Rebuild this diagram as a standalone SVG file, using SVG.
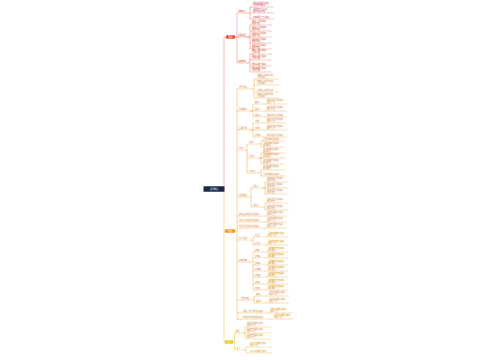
<svg xmlns="http://www.w3.org/2000/svg" width="500" height="360" viewBox="0 0 500 360">
<style>
.t{font-family:"Noto Sans CJK SC","Noto Sans",sans-serif;font-size:2px}
.tr{fill:#d4473f}.to{fill:#d98a20}.tw{fill:#ffffff}
.c{fill:none;stroke-width:0.5}
.r{stroke:#ea7a72}.o{stroke:#f0a640}.y{stroke:#efc03c}
.u{fill:none;stroke-width:0.4}
</style>
<rect width="500" height="360" fill="#ffffff"/>
<g id="connectors">
<path class="c r" d="M224 189V37H226"/>
<path class="c o" d="M224 189V231H225"/>
<path class="c y" d="M224 231V342H225"/>
<path class="c r" d="M235 37H237V13H238M235 37H238M237 37V63H238"/>
<path class="c r" d="M246 13H250V7H253M250 13H253M250 13V19H253"/>
<path class="c r" d="M246 37H250V25H252M250 31H252M246 37H252M250 37V49H252M250 43H252"/>
<path class="c r" d="M246 63H250V54H252M250 60H252M250 63V72H252M250 66H252"/>
<path class="c o" d="M235 231H237V89H239M237 111H239M237 130H239M237 150H239M237 197H239M237 216H239M237 222H239M237 228H239M237 231V319H239M237 240H239M237 262H239M237 300H241M237 313H243M237 319H243"/>
<path class="c o" d="M251 89H254V79H257M254 85H257M254 89V98H257M254 92H257"/>
<path class="c o" d="M250 111H253V104H255M250 111H255M253 111V117H255M264 104H267M264 111H267M264 117H267"/>
<path class="c o" d="M250 130H253V123H255M250 130H255M253 130V137H255M264 123H267M264 130H267M264 137H267"/>
<path class="c o" d="M245 150H247V144H249M247 150V173H249M247 158H249"/>
<path class="c o" d="M259 144H261V141H263M261 144V147H263M259 158H261V153H263M259 158H263M261 158V164H263M259 173H261V170H263M261 173V176H263"/>
<path class="c o" d="M248 197H251V188H253M251 197V207H253M263 188H265V182H267M263 188H267M265 188V194H267M263 207H265V203H267M265 207V210H267"/>
<path class="c o" d="M264 216H267M264 222H267M264 228H267"/>
<path class="c o" d="M251 240H253V237H255M253 240V245H255M265 237H268M265 245H268"/>
<path class="c o" d="M247 262H253V252H255M253 258H255M253 262V290H255M253 265H255M253 271H255M253 277H255M253 284H255M265 252H268M265 258H268M265 265H268M265 271H268M265 277H268M265 284H268M265 290H268"/>
<path class="c o" d="M251 300H254V296H256M254 300V303H256M266 296H269M266 303H269"/>
<path class="c o" d="M267 313H270M271 319H274"/>
<path class="c y" d="M233 342H234.5V333H236M234.5 342V350H236"/>
<path class="c y" d="M243 333H245V327H247M243 333H247M245 333V339H247"/>
<path class="c y" d="M244 350H246V347H250M246 350V353H250"/>
</g>
<g id="root"><rect x="203.5" y="186.3" width="21" height="5.4" rx="0.5" fill="#1e2846"/><text class="t tw" x="214" y="189.7" text-anchor="middle">主题概览</text></g>
<g id="R"><rect x="226" y="35.3" width="9" height="3.4" rx="0.4" fill="#e74c3c"/><text class="t tw" x="230.5" y="37.7" text-anchor="middle">概述</text></g>
<g id="O"><rect x="225" y="229.3" width="10" height="3.4" rx="0.4" fill="#f39c12"/><text class="t tw" x="230" y="231.7" text-anchor="middle">内容</text></g>
<g id="Y"><rect x="225" y="340.3" width="8" height="3.4" rx="0.4" fill="#f1c40f"/><text class="t tw" x="229" y="342.7" text-anchor="middle">总结</text></g>
<g id="R1"><text class="t tr" x="238" y="12.3">基本定义</text><path class="u r" d="M238 13h8"/></g>
<g id="R1a"><text class="t tr" x="253" y="4.2">相关内容要点说明<tspan x="253" y="6.3">具体细节描述</tspan></text><path class="u r" d="M253 7h21"/></g>
<g id="R1b"><text class="t tr" x="253" y="10.2">主要特点与表现<tspan x="253" y="12.3">相关说明内容</tspan></text><path class="u r" d="M253 13h21"/></g>
<g id="R1c"><text class="t tr" x="253" y="18.3">基本概念介绍说明</text><path class="u r" d="M253 19h21"/></g>
<g id="R2"><text class="t tr" x="238" y="36.3">主要类型</text><path class="u r" d="M238 37h8"/></g>
<g id="R2a"><text class="t tr" x="252" y="22.2">类型一具体说明<tspan x="252" y="24.3">相关内容</tspan></text><path class="u r" d="M252 25h20"/></g>
<g id="R2b"><text class="t tr" x="252" y="28.2">类型二具体说明<tspan x="252" y="30.3">相关内容</tspan></text><path class="u r" d="M252 31h20"/></g>
<g id="R2c"><text class="t tr" x="252" y="34.2">类型三具体说明<tspan x="252" y="36.3">相关内容</tspan></text><path class="u r" d="M252 37h20"/></g>
<g id="R2d"><text class="t tr" x="252" y="40.2">类型四具体说明<tspan x="252" y="42.3">相关内容</tspan></text><path class="u r" d="M252 43h20"/></g>
<g id="R2e"><text class="t tr" x="252" y="46.2">类型五具体说明<tspan x="252" y="48.3">相关内容</tspan></text><path class="u r" d="M252 49h20"/></g>
<g id="R3"><text class="t tr" x="238" y="62.3">基本原则</text><path class="u r" d="M238 63h8"/></g>
<g id="R3a"><text class="t tr" x="252" y="51.2">原则一要点说明<tspan x="252" y="53.3">具体内容</tspan></text><path class="u r" d="M252 54h20"/></g>
<g id="R3b"><text class="t tr" x="252" y="57.2">原则二要点说明<tspan x="252" y="59.3">具体内容</tspan></text><path class="u r" d="M252 60h20"/></g>
<g id="R3c"><text class="t tr" x="252" y="65.3">原则三要点说明</text><path class="u r" d="M252 66h20"/></g>
<g id="R3d"><text class="t tr" x="252" y="69.2">原则四要点说明<tspan x="252" y="71.3">具体内容</tspan></text><path class="u r" d="M252 72h20"/></g>
<g id="O1"><text class="t to" x="239" y="88.3">发展历程</text><path class="u o" d="M239 89h12"/></g>
<g id="O1a"><text class="t to" x="257" y="76.2">早期阶段相关内容<tspan x="257" y="78.3">具体说明</tspan></text><path class="u o" d="M257 79h22"/></g>
<g id="O1b"><text class="t to" x="257" y="82.2">中期阶段相关内容<tspan x="257" y="84.3">具体说明</tspan></text><path class="u o" d="M257 85h22"/></g>
<g id="O1c"><text class="t to" x="257" y="91.3">近期阶段相关内容</text><path class="u o" d="M257 92h22"/></g>
<g id="O1d"><text class="t to" x="257" y="95.2">当前阶段相关内容<tspan x="257" y="97.3">具体说明</tspan></text><path class="u o" d="M257 98h22"/></g>
<g id="O2"><text class="t to" x="239" y="110.3">构成要素</text><path class="u o" d="M239 111h11"/></g>
<g id="O2a"><text class="t to" x="255" y="103.3">要素一</text><path class="u o" d="M255 104h9"/></g>
<g id="O2b"><text class="t to" x="255" y="110.3">要素二</text><path class="u o" d="M255 111h9"/></g>
<g id="O2c"><text class="t to" x="255" y="116.3">要素三</text><path class="u o" d="M255 117h9"/></g>
<g id="O2a1"><text class="t to" x="267" y="101.2">相关内容具体说明<tspan x="267" y="103.3">要点介绍</tspan></text><path class="u o" d="M267 104h20"/></g>
<g id="O2b1"><text class="t to" x="267" y="108.2">相关内容具体说明<tspan x="267" y="110.3">要点介绍</tspan></text><path class="u o" d="M267 111h20"/></g>
<g id="O2c1"><text class="t to" x="267" y="116.3">相关内容具体说明</text><path class="u o" d="M267 117h20"/></g>
<g id="O3"><text class="t to" x="239" y="129.3">主要功能</text><path class="u o" d="M239 130h11"/></g>
<g id="O3a"><text class="t to" x="255" y="122.3">功能一</text><path class="u o" d="M255 123h9"/></g>
<g id="O3b"><text class="t to" x="255" y="129.3">功能二</text><path class="u o" d="M255 130h9"/></g>
<g id="O3c"><text class="t to" x="255" y="136.3">功能三</text><path class="u o" d="M255 137h9"/></g>
<g id="O3a1"><text class="t to" x="267" y="120.2">相关内容具体说明<tspan x="267" y="122.3">要点介绍</tspan></text><path class="u o" d="M267 123h20"/></g>
<g id="O3b1"><text class="t to" x="267" y="127.2">相关内容具体说明<tspan x="267" y="129.3">要点介绍</tspan></text><path class="u o" d="M267 130h20"/></g>
<g id="O3c1"><text class="t to" x="267" y="136.3">相关内容具体说明</text><path class="u o" d="M267 137h20"/></g>
<g id="O4"><text class="t to" x="239" y="149.3">方法</text><path class="u o" d="M239 150h6"/></g>
<g id="O4a"><text class="t to" x="249" y="143.3">方法一</text><path class="u o" d="M249 144h10"/></g>
<g id="O4b"><text class="t to" x="249" y="157.3">方法二</text><path class="u o" d="M249 158h10"/></g>
<g id="O4c"><text class="t to" x="249" y="172.3">方法三</text><path class="u o" d="M249 173h10"/></g>
<g id="O4a1"><text class="t to" x="263" y="140.3">具体步骤内容说明</text><path class="u o" d="M263 141h22"/></g>
<g id="O4a2"><text class="t to" x="263" y="144.2">具体步骤内容说明<tspan x="263" y="146.3">相关要点</tspan></text><path class="u o" d="M263 147h22"/></g>
<g id="O4b1"><text class="t to" x="263" y="150.2">具体步骤内容说明<tspan x="263" y="152.3">相关要点</tspan></text><path class="u o" d="M263 153h22"/></g>
<g id="O4b2"><text class="t to" x="263" y="155.4">具体步骤内容说明<tspan x="263" y="157.4">相关要点</tspan></text><path class="u o" d="M263 158h22"/></g>
<g id="O4b3"><text class="t to" x="263" y="161.2">具体步骤内容说明<tspan x="263" y="163.3">相关要点</tspan></text><path class="u o" d="M263 164h22"/></g>
<g id="O4c1"><text class="t to" x="263" y="167.2">具体步骤内容说明<tspan x="263" y="169.3">相关要点</tspan></text><path class="u o" d="M263 170h22"/></g>
<g id="O4c2"><text class="t to" x="263" y="175.3">具体步骤内容说明</text><path class="u o" d="M263 176h22"/></g>
<g id="O5"><text class="t to" x="239" y="196.3">应用领域</text><path class="u o" d="M239 197h9"/></g>
<g id="O5a"><text class="t to" x="253" y="187.3">领域一</text><path class="u o" d="M253 188h10"/></g>
<g id="O5b"><text class="t to" x="253" y="206.3">领域二</text><path class="u o" d="M253 207h10"/></g>
<g id="O5a1"><text class="t to" x="267" y="179.2">应用场景具体说明<tspan x="267" y="181.3">相关内容</tspan></text><path class="u o" d="M267 182h22"/></g>
<g id="O5a2"><text class="t to" x="267" y="185.2">应用场景具体说明<tspan x="267" y="187.3">相关内容</tspan></text><path class="u o" d="M267 188h22"/></g>
<g id="O5a3"><text class="t to" x="267" y="191.2">应用场景具体说明<tspan x="267" y="193.3">相关内容</tspan></text><path class="u o" d="M267 194h22"/></g>
<g id="O5b1"><text class="t to" x="267" y="200.2">应用场景具体说明<tspan x="267" y="202.3">相关内容</tspan></text><path class="u o" d="M267 203h22"/></g>
<g id="O5b2"><text class="t to" x="267" y="207.2">应用场景具体说明<tspan x="267" y="209.3">相关内容</tspan></text><path class="u o" d="M267 210h22"/></g>
<g id="O6"><text class="t to" x="239" y="215.3">影响因素相关内容说明</text><path class="u o" d="M239 216h25"/></g>
<g id="O6a"><text class="t to" x="267" y="213.2">具体内容要点说明<tspan x="267" y="215.3">相关介绍</tspan></text><path class="u o" d="M267 216h20"/></g>
<g id="O7"><text class="t to" x="239" y="221.3">注意事项相关内容说明</text><path class="u o" d="M239 222h25"/></g>
<g id="O7a"><text class="t to" x="267" y="219.2">具体内容要点说明<tspan x="267" y="221.3">相关介绍</tspan></text><path class="u o" d="M267 222h20"/></g>
<g id="O8"><text class="t to" x="239" y="227.3">常见问题相关内容说明</text><path class="u o" d="M239 228h25"/></g>
<g id="O8a"><text class="t to" x="267" y="225.2">具体内容要点说明<tspan x="267" y="227.3">相关介绍</tspan></text><path class="u o" d="M267 228h20"/></g>
<g id="O9"><text class="t to" x="239" y="239.3">评价标准</text><path class="u o" d="M239 240h12"/></g>
<g id="O9a"><text class="t to" x="255" y="236.3">标准一</text><path class="u o" d="M255 237h10"/></g>
<g id="O9b"><text class="t to" x="255" y="244.3">标准二</text><path class="u o" d="M255 245h10"/></g>
<g id="O9a1"><text class="t to" x="268" y="234.2">具体内容要点说明<tspan x="268" y="236.3">相关介绍</tspan></text><path class="u o" d="M268 237h20"/></g>
<g id="O9b1"><text class="t to" x="268" y="242.2">具体内容要点说明<tspan x="268" y="244.3">相关介绍</tspan></text><path class="u o" d="M268 245h20"/></g>
<g id="O10"><text class="t to" x="239" y="261.3">实施步骤</text><path class="u o" d="M239 262h8"/></g>
<g id="O10a"><text class="t to" x="255" y="251.3">步骤一</text><path class="u o" d="M255 252h10"/></g>
<g id="O10b"><text class="t to" x="255" y="257.3">步骤二</text><path class="u o" d="M255 258h10"/></g>
<g id="O10c"><text class="t to" x="255" y="264.3">步骤三</text><path class="u o" d="M255 265h10"/></g>
<g id="O10d"><text class="t to" x="255" y="270.3">步骤四</text><path class="u o" d="M255 271h10"/></g>
<g id="O10e"><text class="t to" x="255" y="276.3">步骤五</text><path class="u o" d="M255 277h10"/></g>
<g id="O10f"><text class="t to" x="255" y="283.3">步骤六</text><path class="u o" d="M255 284h10"/></g>
<g id="O10g"><text class="t to" x="255" y="289.3">步骤七</text><path class="u o" d="M255 290h10"/></g>
<g id="O10a1"><text class="t to" x="268" y="249.2">具体操作内容说明<tspan x="268" y="251.3">相关要点</tspan></text><path class="u o" d="M268 252h20"/></g>
<g id="O10b1"><text class="t to" x="268" y="255.2">具体操作内容说明<tspan x="268" y="257.3">相关要点</tspan></text><path class="u o" d="M268 258h20"/></g>
<g id="O10c1"><text class="t to" x="268" y="262.2">具体操作内容说明<tspan x="268" y="264.3">相关要点</tspan></text><path class="u o" d="M268 265h20"/></g>
<g id="O10d1"><text class="t to" x="268" y="268.2">具体操作内容说明<tspan x="268" y="270.3">相关要点</tspan></text><path class="u o" d="M268 271h20"/></g>
<g id="O10e1"><text class="t to" x="268" y="274.2">具体操作内容说明<tspan x="268" y="276.3">相关要点</tspan></text><path class="u o" d="M268 277h20"/></g>
<g id="O10f1"><text class="t to" x="268" y="281.2">具体操作内容说明<tspan x="268" y="283.3">相关要点</tspan></text><path class="u o" d="M268 284h20"/></g>
<g id="O10g1"><text class="t to" x="268" y="287.2">具体操作内容说明<tspan x="268" y="289.3">相关要点</tspan></text><path class="u o" d="M268 290h20"/></g>
<g id="O11"><text class="t to" x="241" y="299.3">发展趋势</text><path class="u o" d="M241 300h10"/></g>
<g id="O11a"><text class="t to" x="256" y="295.3">趋势一</text><path class="u o" d="M256 296h10"/></g>
<g id="O11b"><text class="t to" x="256" y="302.3">趋势二</text><path class="u o" d="M256 303h10"/></g>
<g id="O11a1"><text class="t to" x="269" y="293.2">具体内容要点说明<tspan x="269" y="295.3">相关介绍</tspan></text><path class="u o" d="M269 296h20"/></g>
<g id="O11b1"><text class="t to" x="269" y="300.2">具体内容要点说明<tspan x="269" y="302.3">相关介绍</tspan></text><path class="u o" d="M269 303h20"/></g>
<g id="O12"><text class="t to" x="243" y="312.3">相关案例分析内容说明</text><path class="u o" d="M243 313h24"/></g>
<g id="O12a"><text class="t to" x="270" y="310.2">具体内容要点说明<tspan x="270" y="312.3">相关介绍</tspan></text><path class="u o" d="M270 313h22"/></g>
<g id="O13"><text class="t to" x="243" y="318.3">其他补充内容相关说明</text><path class="u o" d="M243 319h28"/></g>
<g id="O13a"><text class="t to" x="274" y="316.2">具体内容要点说明<tspan x="274" y="318.3">相关介绍</tspan></text><path class="u o" d="M274 319h20"/></g>
<g id="Y1"><text class="t to" x="236" y="332.3">要点</text><path class="u y" d="M236 333h7"/></g>
<g id="Y1a"><text class="t to" x="247" y="324.2">总结内容要点说明<tspan x="247" y="326.3">相关介绍</tspan></text><path class="u y" d="M247 327h24"/></g>
<g id="Y1b"><text class="t to" x="247" y="330.2">总结内容要点说明<tspan x="247" y="332.3">相关介绍</tspan></text><path class="u y" d="M247 333h24"/></g>
<g id="Y1c"><text class="t to" x="247" y="336.2">总结内容要点说明<tspan x="247" y="338.3">相关介绍</tspan></text><path class="u y" d="M247 339h24"/></g>
<g id="Y2"><text class="t to" x="236" y="349.3">意义</text><path class="u y" d="M236 350h8"/></g>
<g id="Y2a"><text class="t to" x="250" y="344.2">意义内容要点说明<tspan x="250" y="346.3">相关介绍</tspan></text><path class="u y" d="M250 347h22"/></g>
<g id="Y2b"><text class="t to" x="250" y="352.3">意义内容要点说明</text><path class="u y" d="M250 353h22"/></g>
</svg>
